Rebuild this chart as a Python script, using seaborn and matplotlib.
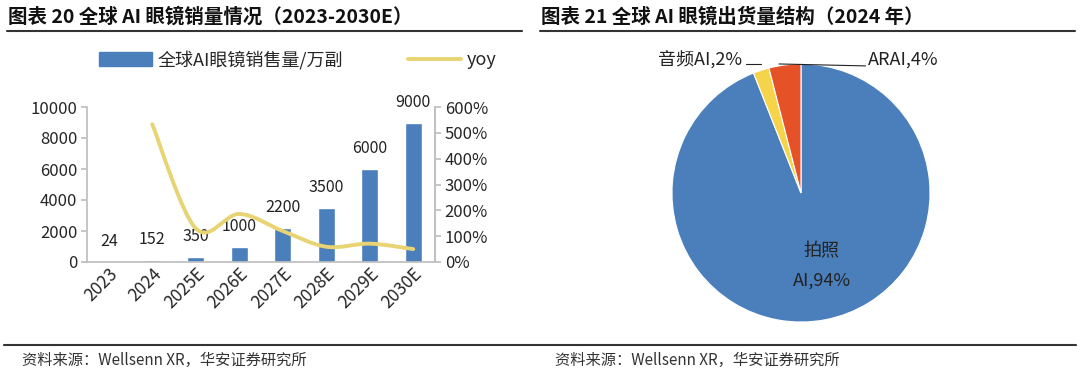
import numpy as np
import pandas as pd
import matplotlib
matplotlib.use("Agg")
import matplotlib.pyplot as plt
from matplotlib.path import Path
from matplotlib.patches import PathPatch, Patch
from matplotlib.lines import Line2D
import seaborn as sns

# data
years = ["2023", "2024", "2025E", "2026E", "2027E", "2028E", "2029E", "2030E"]
sales = [24, 152, 350, 1000, 2200, 3500, 6000, 9000]
yoy = [np.nan, 533, 130, 186, 120, 59, 71, 50]
pie_labels = ["拍照AI", "音频AI", "ARAI"]
pie_values = [94, 2, 4]

BLUE = "#4A7FBC"
YELLOW_LINE = "#E8D472"
PIE_COLORS = ["#4A7FBC", "#F5D44C", "#E55227"]

sns.set_theme(style="white")
plt.rcParams["font.family"] = ["Noto Sans CJK SC", "DejaVu Sans"]

fig = plt.figure(figsize=(10.8, 3.78), dpi=100)

# ---- headings / frame lines
fig.text(8 / 1080, 1 - 17 / 378, "图表 20 全球 AI 眼镜销量情况（2023-2030E）",
         fontsize=14, fontweight="heavy", va="center", ha="left", color="#111111")
fig.text(541 / 1080, 1 - 17 / 378, "图表 21 全球 AI 眼镜出货量结构（2024 年）",
         fontsize=14, fontweight="heavy", va="center", ha="left", color="#111111")
fig.add_artist(Line2D([7 / 1080, 522 / 1080], [1 - 31 / 378] * 2, color="#333333", lw=1.5))
fig.add_artist(Line2D([540 / 1080, 1075 / 1080], [1 - 31 / 378] * 2, color="#333333", lw=1.5))
fig.add_artist(Line2D([4 / 1080, 1076 / 1080], [1 - 345 / 378] * 2, color="#333333", lw=1.5))
fig.text(22 / 1080, 1 - 360 / 378, "资料来源：Wellsenn XR，华安证券研究所",
         fontsize=11, va="center", ha="left", color="#333333")
fig.text(555 / 1080, 1 - 360 / 378, "资料来源：Wellsenn XR，华安证券研究所",
         fontsize=11, va="center", ha="left", color="#333333")

# ---- left: bars + yoy
ax = fig.add_axes([87 / 1080, 1 - 262 / 378, 348 / 1080, 155 / 378])
df = pd.DataFrame({"year": years, "sales": sales, "yoy": yoy})
sns.barplot(data=df, x="year", y="sales", color=BLUE, width=0.4, saturation=1, ax=ax)
ax.set_ylim(0, 10000)
ax.set_xlim(-0.5, 7.5)
ax.set_yticks(range(0, 10001, 2000))
ax.set_xlabel("")
ax.set_ylabel("")
for i, v in enumerate(sales):
    ax.text(i, v + 750, str(v), ha="center", va="bottom", fontsize=11.5, color="#222222")
ax.spines["top"].set_visible(False)
for s in ["left", "bottom", "right"]:
    ax.spines[s].set_color("#BFBFBF")
ax.tick_params(axis="y", length=4, color="#BFBFBF", labelsize=12, pad=3, left=True)
ax.tick_params(axis="x", length=0, labelsize=12.5, pad=2)
plt.setp(ax.get_xticklabels(), rotation=45, ha="right", rotation_mode="anchor")

ax2 = ax.twinx()
ax2.set_ylim(0, 600)
ax2.set_yticks(range(0, 601, 100))
ax2.set_yticklabels([f"{t}%" for t in range(0, 601, 100)])
ax2.tick_params(axis="y", length=4, color="#BFBFBF", labelsize=12, pad=3, right=True)
for s in ["top", "left", "bottom"]:
    ax2.spines[s].set_visible(False)
ax2.spines["right"].set_color("#BFBFBF")

# smoothed yoy curve (Excel-like), bezier through the data points
pts = np.array([(i, v) for i, v in enumerate(yoy) if not np.isnan(v)], dtype=float)
verts = [tuple(pts[0])]
codes = [Path.MOVETO]
n = len(pts)
for k in range(n - 1):
    p0 = pts[k - 1] if k > 0 else pts[k]
    p1, p2 = pts[k], pts[k + 1]
    p3 = pts[k + 2] if k + 2 < n else pts[k + 1]
    verts += [tuple(p1 + (p2 - p0) / 6), tuple(p2 - (p3 - p1) / 6), tuple(p2)]
    codes += [Path.CURVE4] * 3
ax2.add_patch(PathPatch(Path(verts, codes), fill=False, edgecolor=YELLOW_LINE,
                        lw=2.8, capstyle="round"))

handles = [Patch(color=BLUE), Line2D([], [], color=YELLOW_LINE, lw=2.8)]
fig.legend(handles, ["全球AI眼镜销售量/万副", "yoy"], loc="center",
           bbox_to_anchor=(298 / 1080, 1 - 60 / 378), ncol=2, frameon=False,
           fontsize=13, handlelength=2.9, handleheight=0.8, columnspacing=3.6,
           handletextpad=0.35)

# ---- right: pie
axp = fig.add_axes([(801 - 140) / 1080, 1 - (193 + 140) / 378, 280 / 1080, 280 / 378])
axp.pie(pie_values, colors=PIE_COLORS, startangle=90, counterclock=False,
        wedgeprops=dict(edgecolor="white", linewidth=0.8))
axp.set_xlim(-1.085, 1.085)
axp.set_ylim(-1.085, 1.085)
axp.set_aspect("equal")
axp.axis("off")

axp.text(0.16, -0.45, "拍照", ha="center", va="center", fontsize=13, color="#222222")
axp.text(0.16, -0.68, "AI,94%", ha="center", va="center", fontsize=13, color="#222222")
axp.text(-0.46, 1.03, "音频AI,2%", ha="right", va="center", fontsize=13, color="#222222")
axp.plot([-0.43, -0.31], [1.0, 1.0], color="#222222", lw=0.8)
axp.text(0.52, 1.03, "ARAI,4%", ha="left", va="center", fontsize=13, color="#222222")
axp.plot([-0.17, 0.5], [1.0, 0.985], color="#222222", lw=0.8)

fig.savefig("out.png", dpi=100)
